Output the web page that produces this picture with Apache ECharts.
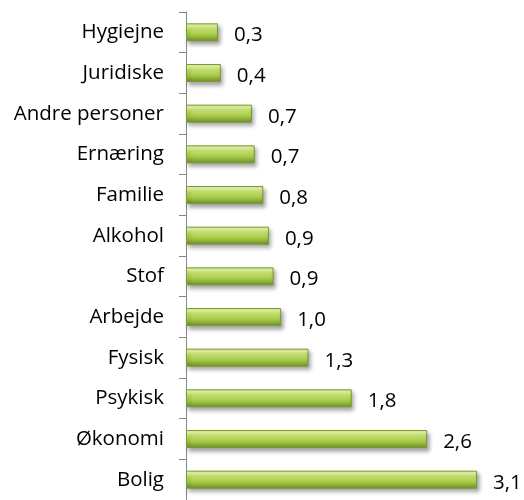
<!DOCTYPE html>
<html>
<head>
<meta charset="utf-8">
<script src="https://cdn.jsdelivr.net/npm/echarts@6/dist/echarts.min.js"></script>
<style>html,body{margin:0;padding:0;background:#fff;}#c{width:524px;height:500px;}</style>
</head>
<body>
<div id="c"></div>
<script>
var categories = ["Hygiejne","Juridiske","Andre personer","Ernæring","Familie","Alkohol","Stof","Arbejde","Fysisk","Psykisk","Økonomi","Bolig"];
var values = [0.34,0.37,0.70,0.73,0.82,0.88,0.93,1.01,1.30,1.76,2.56,3.09];

var chart = echarts.init(document.getElementById('c'), null, {renderer:'canvas'});
var FONT = '"Open Sans", sans-serif';
chart.setOption({
  animation: false,
  backgroundColor: '#ffffff',
  grid: [
    {left: 186, top: 12, width: 329.7, height: 492, containLabel: false},
    {left: 179, top: 12, width: 7, height: 492, containLabel: false}
  ],
  xAxis: [
    {type: 'value', min: 0, max: 3.5, show: false, gridIndex: 0},
    {type: 'value', min: 0, max: 1, show: false, gridIndex: 1}
  ],
  yAxis: [{
    type: 'category', data: categories, inverse: true, boundaryGap: true, position: 'left', gridIndex: 0,
    axisLine: {show: true, onZero: false, lineStyle: {color: '#868686', width: 1}},
    axisTick: {show: true, inside: false, interval: 0, length: 7, lineStyle: {color: '#868686', width: 1}},
    axisLabel: {margin: 22, interval: 0, color: '#000', fontFamily: FONT, fontSize: 20.5},
    splitLine: {show: false}
  }, {
    type: 'category', data: categories, inverse: true, boundaryGap: true, gridIndex: 1,
    axisLine: {show: false}, axisTick: {show: false}, axisLabel: {show: false},
    splitLine: {show: true, interval: 0, lineStyle: {color: '#868686', width: 1}}
  }],
  series: [{
    type: 'bar', data: values, barWidth: 18, xAxisIndex: 0, yAxisIndex: 0,
    itemStyle: {
      color: new echarts.graphic.LinearGradient(0,0,0,1,[
        {offset:0, color:'#d2ea86'},
        {offset:0.15, color:'#e8f9a6'},
        {offset:0.35, color:'#c2e06a'},
        {offset:0.65, color:'#a4c846'},
        {offset:1, color:'#6f8d28'}
      ]),
      borderColor: '#7a9a34', borderWidth: 1,
      shadowColor: 'rgba(0,0,0,0.35)', shadowBlur: 4, shadowOffsetX: 2, shadowOffsetY: 3
    },
    label: {
      show: true, position: 'right', distance: 16, offset: [0, 3],
      color: '#000', fontFamily: FONT, fontSize: 20.5,
      formatter: function(p){ return p.value.toFixed(1).replace('.', ','); }
    }
  }]
});
</script>
</body>
</html>
